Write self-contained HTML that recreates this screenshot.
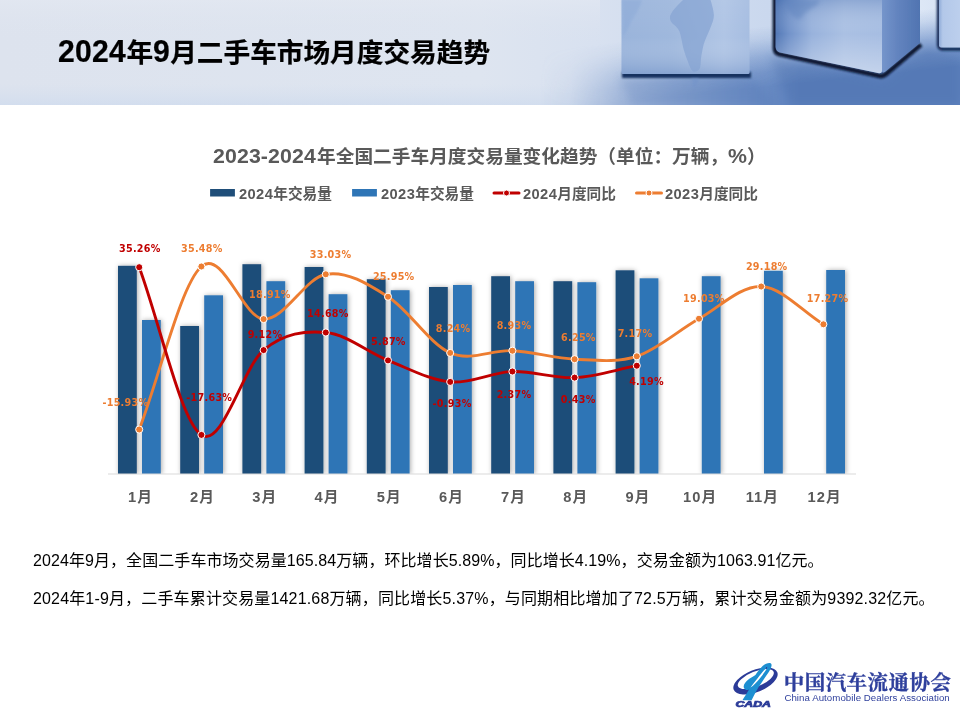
<!DOCTYPE html>
<html lang="zh-CN"><head><meta charset="utf-8"><title>2024年9月二手车市场月度交易趋势</title>
<style>
html,body{margin:0;padding:0;background:#fff;}
body{width:960px;height:720px;position:relative;overflow:hidden;font-family:"Liberation Sans","Noto Sans CJK SC",sans-serif;}
.hdr{position:absolute;left:0;top:0;width:960px;height:105px;overflow:hidden;}
.title{position:absolute;left:58px;top:32.5px;font-size:26.67px;font-weight:bold;color:#000;white-space:nowrap;line-height:40px;-webkit-text-stroke:0.2px #000;}
.title .d{display:inline-block;transform:scale(1.13,1.17);transform-origin:0 29.2px;letter-spacing:0.2px;}
.title .d4{margin-right:8.3px;}
.title .d1{margin-right:2.1px;}
.ctitle .d{display:inline-block;transform:scale(1.14,1.06);transform-origin:0 20.5px;letter-spacing:0.1px;}
.ctitle .d9{margin-right:13.3px;}
.ctitle .dp{margin-right:2.2px;}
.lg .d{letter-spacing:0.4px;}
.ctitle{position:absolute;left:6.6px;width:966px;top:143px;text-align:center;font-size:18.7px;font-weight:bold;color:#595959;white-space:nowrap;line-height:28px;}
.lg{position:absolute;top:184px;font-size:14.67px;font-weight:bold;color:#595959;white-space:nowrap;line-height:20px;}
.chart{position:absolute;left:0;top:0;}
.p{position:absolute;left:33px;font-size:16px;color:#000;white-space:nowrap;line-height:24px;}
.logo{position:absolute;left:0;top:0;}
</style></head><body>
<div class="hdr">
<svg width="960" height="105" viewBox="0 0 960 105">
<defs>
<linearGradient id="bg" x1="0" x2="960" y1="0" y2="0" gradientUnits="userSpaceOnUse"><stop offset="0" stop-color="#dde3ee"/><stop offset="0.5" stop-color="#dee5f0"/><stop offset="0.62" stop-color="#d8e1f0"/><stop offset="0.8" stop-color="#cad8ee"/><stop offset="0.96" stop-color="#dde7f6"/><stop offset="1" stop-color="#d4e0f3"/></linearGradient>
<linearGradient id="bgv" x1="0" x2="0" y1="0" y2="105" gradientUnits="userSpaceOnUse"><stop offset="0" stop-color="#e4e9f2" stop-opacity="0.6"/><stop offset="0.4" stop-color="#dde3ee" stop-opacity="0"/><stop offset="0.8" stop-color="#d3deee" stop-opacity="0"/><stop offset="1" stop-color="#d0dcee" stop-opacity="0.8"/></linearGradient>
<linearGradient id="fly" x1="600" y1="44" x2="606.4" y2="104" gradientUnits="userSpaceOnUse"><stop offset="0" stop-color="#7093cb" stop-opacity="0"/><stop offset="0.2" stop-color="#7093cb" stop-opacity="0.2"/><stop offset="0.5" stop-color="#6a8dc6" stop-opacity="0.65"/><stop offset="0.75" stop-color="#6487c1" stop-opacity="0.92"/><stop offset="1" stop-color="#5d81bd" stop-opacity="1"/></linearGradient>
<linearGradient id="flx" x1="540" x2="800" y1="0" y2="0" gradientUnits="userSpaceOnUse"><stop offset="0" stop-color="#fff" stop-opacity="0"/><stop offset="0.115" stop-color="#fff" stop-opacity="0.08"/><stop offset="0.23" stop-color="#fff" stop-opacity="0.3"/><stop offset="0.31" stop-color="#fff" stop-opacity="0.45"/><stop offset="0.54" stop-color="#fff" stop-opacity="0.66"/><stop offset="0.77" stop-color="#fff" stop-opacity="0.84"/><stop offset="1" stop-color="#fff" stop-opacity="1"/></linearGradient>
<mask id="flm"><rect x="500" y="0" width="460" height="105" fill="url(#flx)"/></mask>
<linearGradient id="c1" x1="621" x2="750" y1="0" y2="0" gradientUnits="userSpaceOnUse"><stop offset="0" stop-color="#9ab4db"/><stop offset="0.4" stop-color="#9fb8dd"/><stop offset="0.8" stop-color="#b0c5e5"/><stop offset="1" stop-color="#a6bde1"/></linearGradient>
<linearGradient id="c1y" x1="0" x2="0" y1="0" y2="75" gradientUnits="userSpaceOnUse"><stop offset="0" stop-color="#fff" stop-opacity="0.05"/><stop offset="0.5" stop-color="#fff" stop-opacity="0"/><stop offset="1" stop-color="#4a72b4" stop-opacity="0.3"/></linearGradient>
<linearGradient id="c2" x1="774" x2="882" y1="0" y2="0" gradientUnits="userSpaceOnUse"><stop offset="0" stop-color="#4f75b4"/><stop offset="0.14" stop-color="#7293ca"/><stop offset="0.35" stop-color="#98b2dc"/><stop offset="0.65" stop-color="#aac0e3"/><stop offset="1" stop-color="#a6bde2"/></linearGradient>
<linearGradient id="c2y" x1="0" x2="0" y1="0" y2="75" gradientUnits="userSpaceOnUse"><stop offset="0" stop-color="#3d64a6" stop-opacity="0.25"/><stop offset="0.45" stop-color="#fff" stop-opacity="0"/><stop offset="1" stop-color="#fff" stop-opacity="0.35"/></linearGradient>
<linearGradient id="c2r" x1="882" x2="920" y1="0" y2="0" gradientUnits="userSpaceOnUse"><stop offset="0" stop-color="#7595cb"/><stop offset="0.4" stop-color="#6384bf"/><stop offset="1" stop-color="#5074b1"/></linearGradient>
<linearGradient id="c3" x1="937" x2="960" y1="0" y2="0" gradientUnits="userSpaceOnUse"><stop offset="0" stop-color="#7d9dd0"/><stop offset="0.25" stop-color="#b3c8e9"/><stop offset="1" stop-color="#bccfed"/></linearGradient>
<filter id="b1" x="-20%" y="-50%" width="140%" height="200%"><feGaussianBlur stdDeviation="1"/></filter>
<filter id="b2" x="-20%" y="-50%" width="140%" height="200%"><feGaussianBlur stdDeviation="2"/></filter>
<filter id="b3" x="-20%" y="-50%" width="140%" height="200%"><feGaussianBlur stdDeviation="4"/></filter>
<filter id="b05"><feGaussianBlur stdDeviation="0.5"/></filter>
</defs>
<rect width="960" height="105" fill="url(#bg)"/>
<rect width="600" height="105" fill="url(#bgv)"/>
<rect x="500" y="0" width="460" height="105" fill="url(#fly)" mask="url(#flm)"/>
<!-- cube 1 -->
<path d="M619 77 L752 77 L775 105 L632 105Z" fill="#456cad" opacity="0.18" filter="url(#b3)"/>
<rect x="622" y="72" width="129" height="6" fill="#17325f" filter="url(#b1)"/>
<rect x="621.5" y="-2" width="128" height="76" rx="1.5" fill="url(#c1)" filter="url(#b05)"/>
<rect x="621.5" y="-2" width="128" height="76" rx="1.5" fill="url(#c1y)"/>
<path d="M683 0 C679 4 673 9 670 16 C669.5 20 671 22 673 24 C677 27 679.5 30 680.5 35 C682 41 682.5 45 683.5 49 C685 54 686.5 58 688 62 C689.5 66 691 70 693 71.5 C695.5 72.5 699 71 700 68 C701 64 700.5 60 701.5 55 C702.5 50 703 46 704.5 42 C706.5 36 709.5 31 711.5 25 C713.5 20 714.5 16 713.5 12 C713 8 711.5 3 710.5 0Z" fill="#86a4d3" opacity="0.7" filter="url(#b05)"/><path d="M691 78 C693 82 694 86 693 90 C695 87 698 82 699 78Z" fill="#6f92c9" opacity="0.45" filter="url(#b1)"/>
<path d="M622 0 L642 0 C640 8 636 14 632 20 C629 26 627 32 623 36Z" fill="#8dabd8" opacity="0.55" filter="url(#b1)"/>
<!-- cube 2 -->
<path d="M770 56 L884 80 L926 46 L960 58 L960 105 L790 105Z" fill="#3a609f" opacity="0.22" filter="url(#b3)"/>
<path d="M775 -2 L775 49 Q775.5 53 779 54 L880 76 Q883 76.5 886 74 L921 44.5" fill="none" stroke="#081530" stroke-width="4.8" stroke-linejoin="round" filter="url(#b1)"/>
<path d="M775.5 -2 L775.5 47 Q776 51.5 780 52.5 L878 73 Q882 74 882 70 L882 -2Z" fill="url(#c2)" filter="url(#b05)"/>
<path d="M775.5 -2 L775.5 47 Q776 51.5 780 52.5 L878 73 Q882 74 882 70 L882 -2Z" fill="url(#c2y)"/>
<path d="M882 -2 L882 70 Q882 74 885.5 71.5 L920 43 L920 -2Z" fill="url(#c2r)" filter="url(#b05)"/>
<path d="M784 0 C786 8 790 14 796 18 C800 22 802 16 806 12 C812 8 818 6 820 0Z" fill="#5f83bd" opacity="0.5" filter="url(#b2)"/>
<!-- cube 3 -->
<path d="M938.5 -2 L938.5 45 Q939 49 943 49 L962 49" fill="none" stroke="#142b55" stroke-width="3.4" filter="url(#b1)"/>
<rect x="939" y="-2" width="26" height="49.5" rx="2" fill="url(#c3)" filter="url(#b05)"/>
</svg>
</div>
<div class="title"><span class="d d4">2024</span>年<span class="d d1">9</span>月二手车市场月度交易趋势</div>
<div class="ctitle"><span class="d d9">2023-2024</span>年全国二手车月度交易量变化趋势（单位：万辆，<span class="d dp">%</span>）</div>
<svg class="chart" width="960" height="720" viewBox="0 0 960 720">
<defs><filter id="bs" x="-50%" y="-10%" width="220%" height="120%"><feDropShadow dx="1" dy="0.2" stdDeviation="2.8" flood-color="#000" flood-opacity="0.34"/></filter><clipPath id="pc"><rect x="100" y="200" width="780" height="274"/></clipPath></defs>
<g clip-path="url(#pc)"><rect x="118.0" y="265.8" width="18.8" height="208.2" fill="#1f4e79" filter="url(#bs)"/>
<rect x="180.2" y="326.0" width="18.8" height="148.0" fill="#1f4e79" filter="url(#bs)"/>
<rect x="242.4" y="264.2" width="18.8" height="209.8" fill="#1f4e79" filter="url(#bs)"/>
<rect x="304.6" y="267.0" width="18.8" height="207.0" fill="#1f4e79" filter="url(#bs)"/>
<rect x="366.8" y="279.2" width="18.8" height="194.8" fill="#1f4e79" filter="url(#bs)"/>
<rect x="429.0" y="287.0" width="18.8" height="187.0" fill="#1f4e79" filter="url(#bs)"/>
<rect x="491.2" y="276.2" width="18.8" height="197.8" fill="#1f4e79" filter="url(#bs)"/>
<rect x="553.4" y="281.2" width="18.8" height="192.8" fill="#1f4e79" filter="url(#bs)"/>
<rect x="615.6" y="270.3" width="18.8" height="203.7" fill="#1f4e79" filter="url(#bs)"/>
<rect x="142.0" y="320.0" width="18.8" height="154.0" fill="#2e75b6" filter="url(#bs)"/>
<rect x="204.2" y="295.3" width="18.8" height="178.7" fill="#2e75b6" filter="url(#bs)"/>
<rect x="266.4" y="281.2" width="18.8" height="192.8" fill="#2e75b6" filter="url(#bs)"/>
<rect x="328.6" y="294.2" width="18.8" height="179.8" fill="#2e75b6" filter="url(#bs)"/>
<rect x="390.8" y="290.2" width="18.8" height="183.8" fill="#2e75b6" filter="url(#bs)"/>
<rect x="453.0" y="285.0" width="18.8" height="189.0" fill="#2e75b6" filter="url(#bs)"/>
<rect x="515.2" y="281.2" width="18.8" height="192.8" fill="#2e75b6" filter="url(#bs)"/>
<rect x="577.4" y="282.2" width="18.8" height="191.8" fill="#2e75b6" filter="url(#bs)"/>
<rect x="639.6" y="278.3" width="18.8" height="195.7" fill="#2e75b6" filter="url(#bs)"/>
<rect x="701.8" y="276.2" width="18.8" height="197.8" fill="#2e75b6" filter="url(#bs)"/>
<rect x="764.0" y="270.8" width="18.8" height="203.2" fill="#2e75b6" filter="url(#bs)"/>
<rect x="826.2" y="270.0" width="18.8" height="204.0" fill="#2e75b6" filter="url(#bs)"/></g>
<rect x="108" y="473.5" width="748" height="1" fill="#d9d9d9"/>
<rect x="210.1" y="189" width="24.8" height="7.5" fill="#1f4e79"/><rect x="352.1" y="189" width="24.8" height="7.5" fill="#2e75b6"/>
<path d="M494 193H519" stroke="#c00000" stroke-width="3" stroke-linecap="round"/><circle cx="506.5" cy="193" r="3" fill="#c00000" stroke="#fff" stroke-width="1"/>
<path d="M636.5 193H661.5" stroke="#ed7d31" stroke-width="3" stroke-linecap="round"/><circle cx="649" cy="193" r="3" fill="#ed7d31" stroke="#fff" stroke-width="1"/>
<path d="M139.2 429.5 C159.9 375.2 180.7 284.9 201.4 266.5 C222.1 248.1 242.9 317.8 263.6 319.1 C284.3 320.3 305.1 278.0 325.8 274.3 C346.5 270.6 367.3 283.6 388.0 296.7 C408.7 309.8 429.5 343.9 450.2 352.9 C470.9 361.9 491.7 349.6 512.4 350.7 C533.1 351.7 553.9 358.3 574.6 359.2 C595.3 360.1 616.1 363.0 636.8 356.3 C657.5 349.5 678.3 330.3 699.0 318.7 C719.7 307.0 740.5 285.6 761.2 286.5 C781.9 287.4 802.7 311.7 823.4 324.3" fill="none" stroke="#ed7d31" stroke-width="2.9" stroke-linecap="round"/>
<path d="M139.2 267.2 C159.9 323.1 180.7 421.1 201.4 434.9 C222.1 448.7 242.9 367.2 263.6 350.1 C284.3 333.0 305.1 330.7 325.8 332.5 C346.5 334.2 367.3 352.1 388.0 360.4 C408.7 368.6 429.5 380.1 450.2 381.9 C470.9 383.8 491.7 372.2 512.4 371.5 C533.1 370.8 553.9 378.6 574.6 377.6 C595.3 376.7 616.1 369.7 636.8 365.7" fill="none" stroke="#c00000" stroke-width="2.9" stroke-linecap="round"/>
<circle cx="139.2" cy="429.5" r="3.55" fill="#ed7d31" stroke="#fff" stroke-width="1"/><circle cx="201.4" cy="266.5" r="3.55" fill="#ed7d31" stroke="#fff" stroke-width="1"/><circle cx="263.6" cy="319.1" r="3.55" fill="#ed7d31" stroke="#fff" stroke-width="1"/><circle cx="325.8" cy="274.3" r="3.55" fill="#ed7d31" stroke="#fff" stroke-width="1"/><circle cx="388.0" cy="296.7" r="3.55" fill="#ed7d31" stroke="#fff" stroke-width="1"/><circle cx="450.2" cy="352.9" r="3.55" fill="#ed7d31" stroke="#fff" stroke-width="1"/><circle cx="512.4" cy="350.7" r="3.55" fill="#ed7d31" stroke="#fff" stroke-width="1"/><circle cx="574.6" cy="359.2" r="3.55" fill="#ed7d31" stroke="#fff" stroke-width="1"/><circle cx="636.8" cy="356.3" r="3.55" fill="#ed7d31" stroke="#fff" stroke-width="1"/><circle cx="699.0" cy="318.7" r="3.55" fill="#ed7d31" stroke="#fff" stroke-width="1"/><circle cx="761.2" cy="286.5" r="3.55" fill="#ed7d31" stroke="#fff" stroke-width="1"/><circle cx="823.4" cy="324.3" r="3.55" fill="#ed7d31" stroke="#fff" stroke-width="1"/><circle cx="139.2" cy="267.2" r="3.55" fill="#c00000" stroke="#fff" stroke-width="1"/><circle cx="201.4" cy="434.9" r="3.55" fill="#c00000" stroke="#fff" stroke-width="1"/><circle cx="263.6" cy="350.1" r="3.55" fill="#c00000" stroke="#fff" stroke-width="1"/><circle cx="325.8" cy="332.5" r="3.55" fill="#c00000" stroke="#fff" stroke-width="1"/><circle cx="388.0" cy="360.4" r="3.55" fill="#c00000" stroke="#fff" stroke-width="1"/><circle cx="450.2" cy="381.9" r="3.55" fill="#c00000" stroke="#fff" stroke-width="1"/><circle cx="512.4" cy="371.5" r="3.55" fill="#c00000" stroke="#fff" stroke-width="1"/><circle cx="574.6" cy="377.6" r="3.55" fill="#c00000" stroke="#fff" stroke-width="1"/><circle cx="636.8" cy="365.7" r="3.55" fill="#c00000" stroke="#fff" stroke-width="1"/>
<g font-family="'DejaVu Sans','Liberation Sans',sans-serif" font-weight="bold" font-size="9.6" letter-spacing="0.28" text-anchor="middle"><text x="139.8" y="251.7" fill="#c00000">35.26%</text><text x="201.8" y="251.7" fill="#ed7d31">35.48%</text><text x="125.4" y="405.8" fill="#ed7d31">-15.93%</text><text x="209.3" y="401.2" fill="#c00000">-17.63%</text><text x="269.9" y="297.5" fill="#ed7d31">18.91%</text><text x="330.6" y="257.5" fill="#ed7d31">33.03%</text><text x="393.7" y="279.7" fill="#ed7d31">25.95%</text><text x="327.9" y="317.0" fill="#c00000">14.68%</text><text x="265.0" y="338.0" fill="#c00000">9.12%</text><text x="388.4" y="344.7" fill="#c00000">5.87%</text><text x="453.1" y="331.7" fill="#ed7d31">8.24%</text><text x="514.0" y="328.8" fill="#ed7d31">8.93%</text><text x="578.4" y="340.8" fill="#ed7d31">6.25%</text><text x="635.0" y="337.0" fill="#ed7d31">7.17%</text><text x="703.9" y="301.7" fill="#ed7d31">19.03%</text><text x="766.7" y="270.0" fill="#ed7d31">29.18%</text><text x="827.6" y="301.7" fill="#ed7d31">17.27%</text><text x="452.1" y="406.7" fill="#c00000">-0.93%</text><text x="514.0" y="397.8" fill="#c00000">2.37%</text><text x="578.2" y="403.0" fill="#c00000">0.43%</text><text x="646.5" y="385.0" fill="#c00000">4.19%</text></g>
<g font-family="'Liberation Sans','Noto Sans CJK SC',sans-serif" font-weight="bold" font-size="14.67" fill="#595959" text-anchor="middle" letter-spacing="1.1"><text x="140.4" y="501.6">1月</text><text x="202.6" y="501.6">2月</text><text x="264.8" y="501.6">3月</text><text x="327.0" y="501.6">4月</text><text x="389.2" y="501.6">5月</text><text x="451.4" y="501.6">6月</text><text x="513.6" y="501.6">7月</text><text x="575.8" y="501.6">8月</text><text x="638.0" y="501.6">9月</text><text x="700.2" y="501.6">10月</text><text x="762.4" y="501.6">11月</text><text x="824.6" y="501.6">12月</text></g>
</svg>
<div class="lg" style="left:239px"><span class="d">2024</span>年交易量</div>
<div class="lg" style="left:381px"><span class="d">2023</span>年交易量</div>
<div class="lg" style="left:523px"><span class="d">2024</span>月度同比</div>
<div class="lg" style="left:665px"><span class="d">2023</span>月度同比</div>
<div class="p" style="top:549px;letter-spacing:0.075px">2024年9月，全国二手车市场交易量165.84万辆，环比增长5.89%，同比增长4.19%，交易金额为1063.91亿元。</div>
<div class="p" style="top:587px;letter-spacing:0.155px">2024年1-9月，二手车累计交易量1421.68万辆，同比增长5.37%，与同期相比增加了72.5万辆，累计交易金额为9392.32亿元。</div>
<svg class="logo" width="960" height="720" viewBox="0 0 960 720">
<g transform="rotate(-22 755.5 681)">
<path fill-rule="evenodd" fill="#2b3b98" d="M732 681 a23.5 11 0 1 0 47 0 a23.5 11 0 1 0 -47 0 Z M737.3 679.3 a19.2 7.5 0 1 1 38.4 0 a19.2 7.5 0 1 1 -38.4 0 Z"/>
</g>
<path fill="#1d8fd1" fill-rule="evenodd" d="M770.6 663.2 C772.4 664 771.6 667.4 769.4 671 C767.4 674.2 763.6 679.6 760 685 C758 688 756.4 690.8 751.6 700.2 L742.4 700.2 C744.4 697.4 746.6 693.6 749 689.6 C747.4 690.4 744.6 689.8 743.8 687.4 C743.2 685.2 745 682 749 679 C751 677.6 753.6 676.4 755.4 675 C757 672.6 759.6 668.8 762.4 666.2 C765.4 663.6 768.8 662.4 770.6 663.2 Z M767.4 667 C765.2 668.6 761.4 673.2 757.6 678.2 C754.6 682 752 685.4 750.4 687.6 C753.4 685.6 757 681.8 760.6 677.4 C763.8 673.4 766.8 669.2 767.4 667 Z"/>
<circle cx="766.6" cy="667.6" r="0.7" fill="#2b3b98"/>
<text x="735.5" y="707" font-family="'Liberation Sans',sans-serif" font-weight="bold" font-style="italic" font-size="8.2" fill="#2b3b98" textLength="35.5" lengthAdjust="spacingAndGlyphs" stroke="#2b3b98" stroke-width="0.7">CADA</text>
<text x="783.7" y="689.6" font-family="'Noto Serif CJK SC','Noto Sans CJK SC',serif" font-weight="bold" font-size="20.5" fill="#2e3f9c" stroke="#2e3f9c" stroke-width="0.35" textLength="167.3" lengthAdjust="spacing">中国汽车流通协会</text>
<text x="784.4" y="701" font-family="'Liberation Sans',sans-serif" font-size="9.7" fill="#2e3f9c" textLength="165.3" lengthAdjust="spacing">China Automobile Dealers Association</text>
</svg>
</body></html>
